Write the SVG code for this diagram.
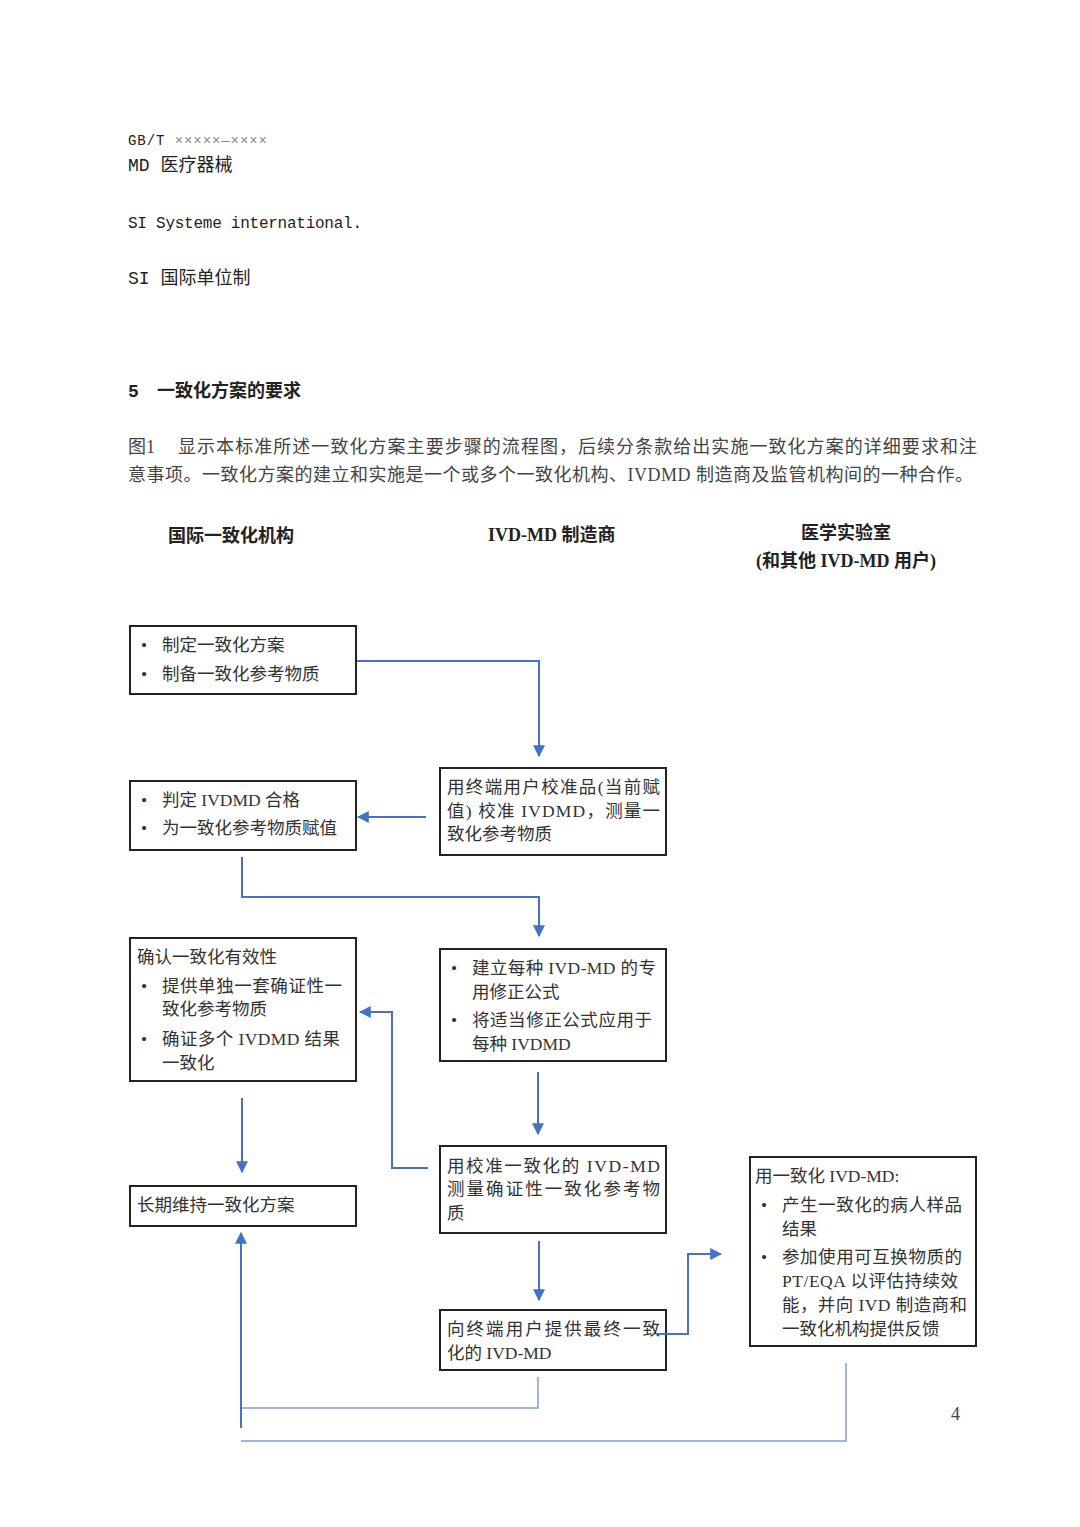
<svg xmlns="http://www.w3.org/2000/svg" width="1080" height="1527" viewBox="0 0 1080 1527">
<defs>
<marker id="ah" viewBox="0 0 10 10" refX="9" refY="5" markerWidth="6" markerHeight="6" orient="auto" markerUnits="strokeWidth">
<path d="M0,0 L10,5 L0,10 z" fill="#4472C4"/>
</marker>
<style>
.m{font-family:"Liberation Mono","Noto Sans CJK SC",monospace;fill:#222}
.p{font-family:"Liberation Serif","Noto Sans CJK SC",serif;font-size:18px;fill:#444}
.hd{font-family:"Liberation Serif","Noto Sans CJK SC",serif;font-size:18px;font-weight:bold;fill:#222}
.t{font-family:"Liberation Serif","Noto Sans CJK SC",serif;font-size:17.5px;fill:#333}
.b{fill:#fff;stroke:#222;stroke-width:2}
.c{fill:none;stroke:#4472C4;stroke-width:2}
.c2{fill:none;stroke:#7f9fd6;stroke-width:1.5}
</style>
</defs>
<rect width="1080" height="1527" fill="#fff"/>
<g id="header">
<text class="m" x="128" y="145" font-size="14" textLength="139">GB/T <tspan fill="#888">×××××—××××</tspan></text>
<text class="m" x="128" y="171" font-size="18">MD 医疗器械</text>
<text class="m" x="128" y="228" font-size="16" textLength="234">SI Systeme international.</text>
<text class="m" x="128" y="284" font-size="18">SI 国际单位制</text>
<text class="m" x="128" y="397" font-size="18" font-weight="bold">5</text>
<text class="m" x="157" y="397" font-size="18" font-weight="bold">一致化方案的要求</text>
<text class="p" x="128" y="453">图1</text>
<text class="p" x="178" y="453" textLength="799">显示本标准所述一致化方案主要步骤的流程图，后续分条款给出实施一致化方案的详细要求和注</text>
<text class="p" x="128" y="481" textLength="845">意事项。一致化方案的建立和实施是一个或多个一致化机构、IVDMD 制造商及监管机构间的一种合作。</text>
</g>
<g id="col-headers">
<text class="hd" x="168" y="542">国际一致化机构</text>
<text class="hd" x="488" y="541">IVD-MD 制造商</text>
<text class="hd" x="846" y="539" text-anchor="middle">医学实验室</text>
<text class="hd" x="846" y="567" text-anchor="middle">(和其他 IVD-MD 用户)</text>
</g>
<g id="n1">
<rect class="b" x="130" y="626" width="226" height="68"/>
<text class="t" x="141" y="651">•</text><text class="t" x="162" y="651">制定一致化方案</text>
<text class="t" x="141" y="680">•</text><text class="t" x="162" y="680">制备一致化参考物质</text>
</g>
<g id="n2">
<rect class="b" x="440" y="768" width="226" height="87"/>
<text class="t" x="447" y="793" textLength="213">用终端用户校准品(当前赋</text>
<text class="t" x="447" y="817" textLength="213">值) 校准 IVDMD，测量一</text>
<text class="t" x="447" y="840">致化参考物质</text>
</g>
<g id="n3">
<rect class="b" x="130" y="781" width="226" height="69"/>
<text class="t" x="141" y="806">•</text><text class="t" x="162" y="806">判定 IVDMD 合格</text>
<text class="t" x="141" y="834">•</text><text class="t" x="162" y="834">为一致化参考物质赋值</text>
</g>
<g id="n4">
<rect class="b" x="130" y="938" width="226" height="143"/>
<text class="t" x="137" y="963">确认一致化有效性</text>
<text class="t" x="141" y="992">•</text><text class="t" x="162" y="992" textLength="180">提供单独一套确证性一</text>
<text class="t" x="162" y="1015">致化参考物质</text>
<text class="t" x="141" y="1045">•</text><text class="t" x="162" y="1045" textLength="178">确证多个 IVDMD 结果</text>
<text class="t" x="162" y="1069">一致化</text>
</g>
<g id="n5">
<rect class="b" x="440" y="949" width="226" height="112"/>
<text class="t" x="451" y="974">•</text><text class="t" x="472" y="974" textLength="184">建立每种 IVD-MD 的专</text>
<text class="t" x="472" y="998">用修正公式</text>
<text class="t" x="451" y="1026">•</text><text class="t" x="472" y="1026" textLength="180">将适当修正公式应用于</text>
<text class="t" x="472" y="1050">每种 IVDMD</text>
</g>
<g id="n6">
<rect class="b" x="440" y="1146" width="226" height="87"/>
<text class="t" x="447" y="1172" textLength="213">用校准一致化的  IVD-MD</text>
<text class="t" x="447" y="1195" textLength="213">测量确证性一致化参考物</text>
<text class="t" x="447" y="1219">质</text>
</g>
<g id="n7">
<rect class="b" x="130" y="1186" width="226" height="40"/>
<text class="t" x="137" y="1211">长期维持一致化方案</text>
</g>
<g id="n8">
<rect class="b" x="440" y="1310" width="226" height="60"/>
<text class="t" x="447" y="1335" textLength="213">向终端用户提供最终一致</text>
<text class="t" x="447" y="1359">化的 IVD-MD</text>
</g>
<g id="n9">
<rect class="b" x="750" y="1157" width="226" height="189"/>
<text class="t" x="755" y="1182">用一致化 IVD-MD:</text>
<text class="t" x="761" y="1211">•</text><text class="t" x="782" y="1211" textLength="180">产生一致化的病人样品</text>
<text class="t" x="782" y="1235">结果</text>
<text class="t" x="761" y="1263">•</text><text class="t" x="782" y="1263" textLength="180">参加使用可互换物质的</text>
<text class="t" x="782" y="1287" textLength="176">PT/EQA 以评估持续效</text>
<text class="t" x="782" y="1311" textLength="185">能，并向 IVD 制造商和</text>
<text class="t" x="782" y="1335">一致化机构提供反馈</text>
</g>
<g id="connectors">
<polyline class="c" points="357,661 539,661 539,756" marker-end="url(#ah)"/>
<polyline class="c" points="426,817 358,817" marker-end="url(#ah)"/>
<polyline class="c" points="242,857 242,897 539,897 539,936" marker-end="url(#ah)"/>
<polyline class="c" points="538,1072 538,1134" marker-end="url(#ah)"/>
<polyline class="c" points="428,1168 392,1168 392,1012 360,1012" marker-end="url(#ah)"/>
<polyline class="c" points="242,1098 242,1172" marker-end="url(#ah)"/>
<polyline class="c" points="539,1241 539,1300" marker-end="url(#ah)"/>
<polyline class="c" points="656,1334 688,1334 688,1254 721,1254" marker-end="url(#ah)"/>
<polyline class="c2" points="538,1377 538,1408 242,1408"/>
<polyline class="c" points="241,1428 241,1233" marker-end="url(#ah)"/>
<polyline class="c2" points="846,1363 846,1441 241,1441"/>
</g>
<text class="p" x="951" y="1420" font-size="15">4</text>
</svg>
